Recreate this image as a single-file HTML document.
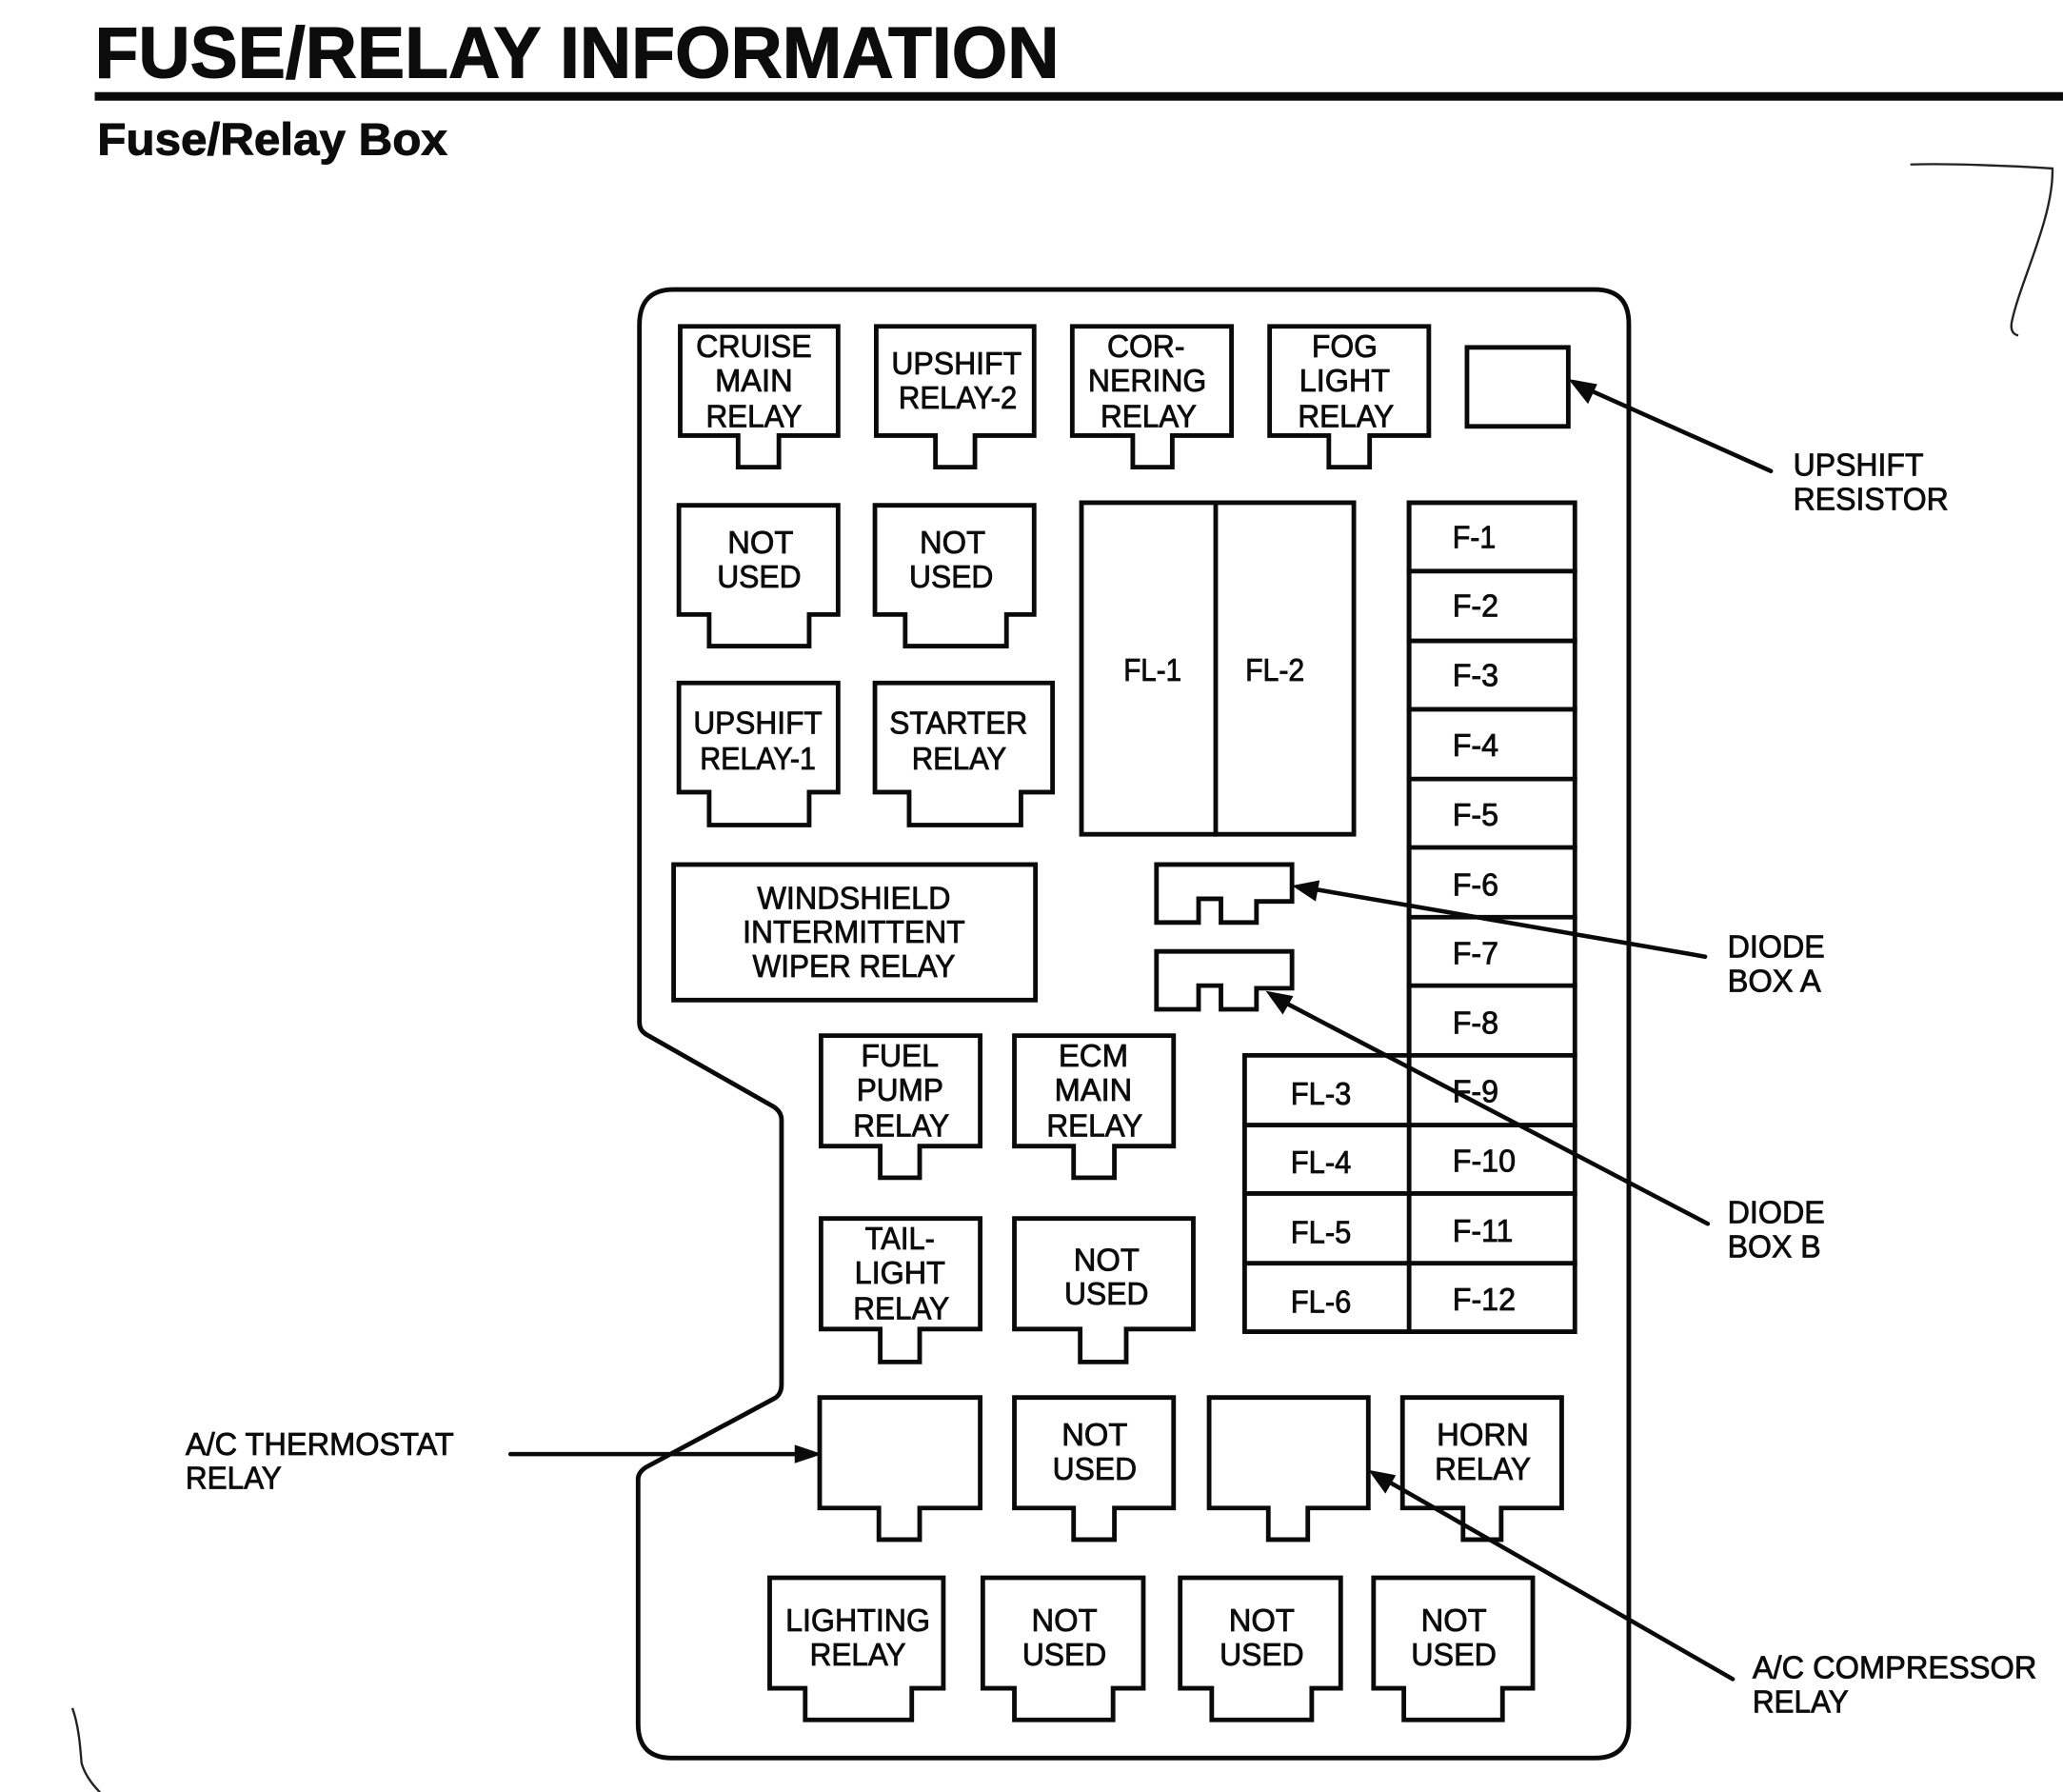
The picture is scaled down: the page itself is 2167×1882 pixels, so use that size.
<!DOCTYPE html>
<html><head><meta charset="utf-8"><style>
html,body{margin:0;padding:0;background:#fff}
svg{display:block}
text{font-family:"Liberation Sans",sans-serif;fill:#0c0c0c;stroke:#0c0c0c;stroke-width:.6;font-size:24px}
.c{text-anchor:middle}
.s path,.s rect,.s line{fill:none;stroke:#0a0a0a;stroke-width:3.5;stroke-linejoin:miter;stroke-linecap:square}
.a line{stroke:#0a0a0a;stroke-width:3.3;stroke-linecap:round}
.a polygon{fill:#0a0a0a}
</style></head><body>
<svg xmlns="http://www.w3.org/2000/svg" width="2167" height="1882" viewBox="0 0 1568 1361.8">
<rect width="1568" height="1362" fill="#fff"/>
<text x="72" y="59" textLength="733" lengthAdjust="spacingAndGlyphs" style="font-size:55px;font-weight:bold;stroke-width:.8">FUSE/RELAY INFORMATION</text>
<rect x="72" y="70" width="1496" height="6.5" fill="#0a0a0a"/>
<text x="74" y="117.5" textLength="266" lengthAdjust="spacingAndGlyphs" style="font-size:34px;font-weight:bold;stroke-width:.7">Fuse/Relay Box</text>
<path d="M1452,125 C1480,124 1530,126 1560,128 C1561,165 1535,215 1529,245 C1528,251 1530,254 1534,255" fill="none" stroke="#222" stroke-width="1.7"/>
<path d="M55,1298 C60,1312 61,1328 62,1340 C65,1350 71,1357 76,1362" fill="none" stroke="#222" stroke-width="1.7"/>

<g class="s">
<path d="M486,247 Q486,220 512,220 H1212 Q1238,220 1238,246 V1310 Q1238,1336 1212,1336 H511 Q485,1336 485,1310 V1124 Q485,1119 491,1115 L588,1063 Q594,1060 594,1052 V851 Q594,845 588,841 L491,786 Q486,783 486,777 Z"/>
<path d="M517,248H637V331H592V355H561V331H517Z"/>
<path d="M666,248H786V331H741V355H711V331H666Z"/>
<path d="M815,248H936V331H891V355H861V331H815Z"/>
<path d="M965,248H1086V331H1041V355H1010V331H965Z"/>
<rect x="1115" y="264" width="77" height="60"/>
<path d="M516,384H637V467H615V491H539V467H516Z"/>
<path d="M665,384H786V467H765V491H688V467H665Z"/>
<path d="M516,519H637V602H615V627H539V602H516Z"/>
<path d="M665,519H800V602H776V627H691V602H665Z"/>
<rect x="822" y="382" width="207" height="252"/>
<line x1="924" y1="382" x2="924" y2="634"/>
<path d="M1071,382H1197V1012H946V802H1071Z"/>
<line x1="1071" y1="382" x2="1071" y2="1012"/>
<line x1="1071" y1="434" x2="1197" y2="434"/>
<line x1="1071" y1="487" x2="1197" y2="487"/>
<line x1="1071" y1="539" x2="1197" y2="539"/>
<line x1="1071" y1="592" x2="1197" y2="592"/>
<line x1="1071" y1="644" x2="1197" y2="644"/>
<line x1="1071" y1="697" x2="1197" y2="697"/>
<line x1="1071" y1="749" x2="1197" y2="749"/>
<line x1="1071" y1="802" x2="1197" y2="802"/>
<line x1="946" y1="855" x2="1197" y2="855"/>
<line x1="946" y1="907" x2="1197" y2="907"/>
<line x1="946" y1="960" x2="1197" y2="960"/>
<rect x="512" y="657" width="275" height="103"/>
<path d="M879,657H982V685H955V701H928V683H911V701H879Z"/>
<path d="M879,723H982V751H955V767H928V749H911V767H879Z"/>
<path d="M624,787H745V871H699V895H669V871H624Z"/>
<path d="M771,787H892V871H847V895H816V871H771Z"/>
<path d="M624,926H745V1010H699V1035H669V1010H624Z"/>
<path d="M771,926H907V1010H856V1035H821V1010H771Z"/>
<path d="M623,1062H745V1146H699V1170H668V1146H623Z"/>
<path d="M771,1062H892V1146H847V1170H816V1146H771Z"/>
<path d="M919,1062H1040V1146H994V1170H964V1146H919Z"/>
<path d="M1066,1062H1187V1146H1141V1170H1112V1146H1066Z"/>
<path d="M585,1199H717V1283H693V1307H612V1283H585Z"/>
<path d="M747,1199H869V1283H846V1307H771V1283H747Z"/>
<path d="M897,1199H1019V1283H997V1307H921V1283H897Z"/>
<path d="M1044,1199H1165V1283H1142V1307H1067V1283H1044Z"/>
</g>

<g class="a">
<line x1="1346" y1="358" x2="1205" y2="295"/><polygon points="1192,288 1214,292 1207,307"/>
<line x1="1296" y1="727" x2="995" y2="675"/><polygon points="982,673 1003,669 1000,685"/>
<line x1="1298" y1="930" x2="975" y2="761"/><polygon points="962,753 983,757 975,771"/>
<line x1="388" y1="1105" x2="610" y2="1105"/><polygon points="625,1105 604,1098 604,1112"/>
<line x1="1317" y1="1276" x2="1052" y2="1124"/><polygon points="1040,1117 1061,1121 1053,1135"/>
</g>

<g transform="translate(0,-0.5)">
<g class="c">
<text x="573" y="272" textLength="88" lengthAdjust="spacingAndGlyphs">CRUISE</text>
<text x="573" y="298" textLength="59" lengthAdjust="spacingAndGlyphs">MAIN</text>
<text x="573" y="325" textLength="73" lengthAdjust="spacingAndGlyphs">RELAY</text>
<text x="727" y="285" textLength="99" lengthAdjust="spacingAndGlyphs">UPSHIFT</text>
<text x="728" y="311" textLength="90" lengthAdjust="spacingAndGlyphs">RELAY-2</text>
<text x="871" y="272" textLength="59" lengthAdjust="spacingAndGlyphs">COR-</text>
<text x="872" y="298" textLength="90" lengthAdjust="spacingAndGlyphs">NERING</text>
<text x="873" y="325" textLength="73" lengthAdjust="spacingAndGlyphs">RELAY</text>
<text x="1022" y="272" textLength="50" lengthAdjust="spacingAndGlyphs">FOG</text>
<text x="1022" y="298" textLength="69" lengthAdjust="spacingAndGlyphs">LIGHT</text>
<text x="1023" y="325" textLength="73" lengthAdjust="spacingAndGlyphs">RELAY</text>
<text x="578" y="421" textLength="50" lengthAdjust="spacingAndGlyphs">NOT</text>
<text x="577" y="447" textLength="64" lengthAdjust="spacingAndGlyphs">USED</text>
<text x="724" y="421" textLength="50" lengthAdjust="spacingAndGlyphs">NOT</text>
<text x="723" y="447" textLength="64" lengthAdjust="spacingAndGlyphs">USED</text>
<text x="576" y="558" textLength="98" lengthAdjust="spacingAndGlyphs">UPSHIFT</text>
<text x="576" y="585" textLength="88" lengthAdjust="spacingAndGlyphs">RELAY-1</text>
<text x="728.5" y="558" textLength="105" lengthAdjust="spacingAndGlyphs">STARTER</text>
<text x="729" y="585" textLength="72" lengthAdjust="spacingAndGlyphs">RELAY</text>
<text x="649" y="691" textLength="147" lengthAdjust="spacingAndGlyphs">WINDSHIELD</text>
<text x="649" y="717" textLength="169" lengthAdjust="spacingAndGlyphs">INTERMITTENT</text>
<text x="649" y="743" textLength="154" lengthAdjust="spacingAndGlyphs">WIPER RELAY</text>
<text x="876" y="518" textLength="44" lengthAdjust="spacingAndGlyphs">FL-1</text>
<text x="969" y="518" textLength="45" lengthAdjust="spacingAndGlyphs">FL-2</text>
<text x="1004" y="840" textLength="46" lengthAdjust="spacingAndGlyphs">FL-3</text>
<text x="1004" y="892" textLength="46" lengthAdjust="spacingAndGlyphs">FL-4</text>
<text x="1004" y="945" textLength="46" lengthAdjust="spacingAndGlyphs">FL-5</text>
<text x="1004" y="998" textLength="46" lengthAdjust="spacingAndGlyphs">FL-6</text>
<text x="684" y="811" textLength="59" lengthAdjust="spacingAndGlyphs">FUEL</text>
<text x="684" y="837" textLength="66" lengthAdjust="spacingAndGlyphs">PUMP</text>
<text x="685" y="864" textLength="73" lengthAdjust="spacingAndGlyphs">RELAY</text>
<text x="831" y="811" textLength="53" lengthAdjust="spacingAndGlyphs">ECM</text>
<text x="831" y="837" textLength="59" lengthAdjust="spacingAndGlyphs">MAIN</text>
<text x="832" y="864" textLength="73" lengthAdjust="spacingAndGlyphs">RELAY</text>
<text x="684" y="950" textLength="53" lengthAdjust="spacingAndGlyphs">TAIL-</text>
<text x="684" y="976" textLength="69" lengthAdjust="spacingAndGlyphs">LIGHT</text>
<text x="685" y="1003" textLength="73" lengthAdjust="spacingAndGlyphs">RELAY</text>
<text x="841" y="966" textLength="50" lengthAdjust="spacingAndGlyphs">NOT</text>
<text x="841" y="992" textLength="64" lengthAdjust="spacingAndGlyphs">USED</text>
<text x="832" y="1099" textLength="50" lengthAdjust="spacingAndGlyphs">NOT</text>
<text x="832" y="1125" textLength="64" lengthAdjust="spacingAndGlyphs">USED</text>
<text x="1127" y="1099" textLength="70" lengthAdjust="spacingAndGlyphs">HORN</text>
<text x="1127" y="1125" textLength="73" lengthAdjust="spacingAndGlyphs">RELAY</text>
<text x="652" y="1240" textLength="110" lengthAdjust="spacingAndGlyphs">LIGHTING</text>
<text x="652" y="1266" textLength="73" lengthAdjust="spacingAndGlyphs">RELAY</text>
<text x="809" y="1240" textLength="50" lengthAdjust="spacingAndGlyphs">NOT</text>
<text x="809" y="1266" textLength="64" lengthAdjust="spacingAndGlyphs">USED</text>
<text x="959" y="1240" textLength="50" lengthAdjust="spacingAndGlyphs">NOT</text>
<text x="959" y="1266" textLength="64" lengthAdjust="spacingAndGlyphs">USED</text>
<text x="1105" y="1240" textLength="50" lengthAdjust="spacingAndGlyphs">NOT</text>
<text x="1105" y="1266" textLength="65" lengthAdjust="spacingAndGlyphs">USED</text>
</g>
<text x="1104" y="417" textLength="33" lengthAdjust="spacingAndGlyphs">F-1</text>
<text x="1104" y="469" textLength="35" lengthAdjust="spacingAndGlyphs">F-2</text>
<text x="1104" y="522" textLength="35" lengthAdjust="spacingAndGlyphs">F-3</text>
<text x="1104" y="575" textLength="35" lengthAdjust="spacingAndGlyphs">F-4</text>
<text x="1104" y="628" textLength="35" lengthAdjust="spacingAndGlyphs">F-5</text>
<text x="1104" y="681" textLength="35" lengthAdjust="spacingAndGlyphs">F-6</text>
<text x="1104" y="733" textLength="35" lengthAdjust="spacingAndGlyphs">F-7</text>
<text x="1104" y="786" textLength="35" lengthAdjust="spacingAndGlyphs">F-8</text>
<text x="1104" y="838" textLength="35" lengthAdjust="spacingAndGlyphs">F-9</text>
<text x="1104" y="891" textLength="48" lengthAdjust="spacingAndGlyphs">F-10</text>
<text x="1104" y="944" textLength="46" lengthAdjust="spacingAndGlyphs">F-11</text>
<text x="1104" y="996" textLength="48" lengthAdjust="spacingAndGlyphs">F-12</text>
<text x="1363" y="362" textLength="99" lengthAdjust="spacingAndGlyphs">UPSHIFT</text>
<text x="1363" y="388" textLength="118" lengthAdjust="spacingAndGlyphs">RESISTOR</text>
<text x="1313" y="728" textLength="74" lengthAdjust="spacingAndGlyphs">DIODE</text>
<text x="1313" y="754" textLength="71" lengthAdjust="spacingAndGlyphs">BOX A</text>
<text x="1313" y="930" textLength="74" lengthAdjust="spacingAndGlyphs">DIODE</text>
<text x="1313" y="956" textLength="71" lengthAdjust="spacingAndGlyphs">BOX B</text>
<text x="141" y="1106" textLength="204" lengthAdjust="spacingAndGlyphs">A/C THERMOSTAT</text>
<text x="141" y="1132" textLength="73" lengthAdjust="spacingAndGlyphs">RELAY</text>
<text x="1332" y="1276" textLength="216" lengthAdjust="spacingAndGlyphs">A/C COMPRESSOR</text>
<text x="1332" y="1302" textLength="73" lengthAdjust="spacingAndGlyphs">RELAY</text>
</g>
</svg>
</body></html>
